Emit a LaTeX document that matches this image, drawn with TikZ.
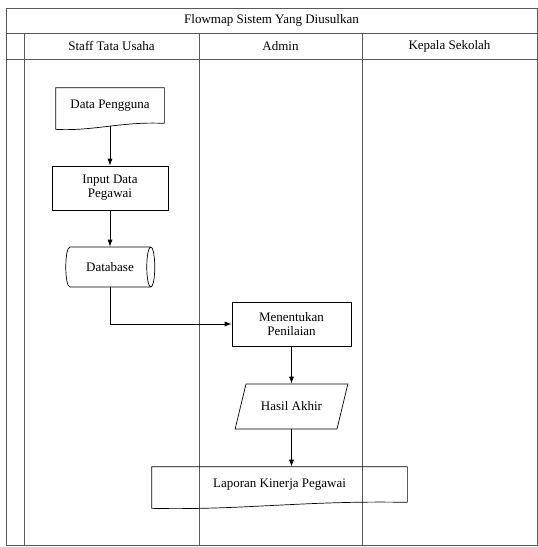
\documentclass[tikz,border=0pt]{standalone}
\usepackage{fontspec}
\setmainfont{Liberation Serif}
\usetikzlibrary{calc,shapes.geometric}
\usetikzlibrary{arrows.meta}

% document shape: wavy bottom, left corner #2 lower than the right one
\newcommand{\docshape}[2]{%
  \draw (#1.north west) -- (#1.north east) -- (#1.south east)
    .. controls ($(#1.south west)!0.6!(#1.south east)+(0,2pt)$)
    and ($(#1.south west)!0.35!(#1.south east)+(0,-#2-2pt)$) ..
    ([yshift=-#2]#1.south west) coordinate[pos=0.5] (#1-wave) -- cycle;
}

\begin{document}
\begin{tikzpicture}[x=1pt,y=-1pt,font=\fontsize{13}{14}\selectfont,
  line width=0.7pt,
  tbl/.style={draw=black!65,line width=0.8pt},
  box/.style={draw,rectangle,align=center,inner sep=2pt},
  doc/.style={rectangle,align=center,inner sep=2pt},
  arr/.style={-{Latex[length=7pt,width=5pt]}}]
\useasboundingbox (0,0) rectangle (538,547);

% swimlane table
\draw[tbl] (6,8) rectangle (537,545);
\draw[tbl] (6,33) -- (537,33);
\draw[tbl] (6,59) -- (537,59);
\foreach \x in {24,199,362}
  \draw[tbl] (\x,33) -- (\x,545);
\node (judul) at (271.5,20.5) {Flowmap Sistem Yang Diusulkan};
\node (staff) at (111.5,46) {Staff Tata Usaha};
\node (admin) at (280.5,46) {Admin};
\node (kepsek) at (449.5,46) {Kepala Sekolah};

\node[doc,minimum width=108pt,minimum height=35pt] (pengguna) at (110,105.5) {Data Pengguna};
\docshape{pengguna}{6pt}
\node[box,minimum width=116pt,minimum height=44pt] (input) at (110,188) {Input Data\\Pegawai};
\node[draw,cylinder,aspect=1.2,minimum width=40pt,minimum height=89pt] (database) at (107,267) {};
\node (dbtext) at (110,267) {Database};

\node[box,minimum width=119pt,minimum height=44pt] (menentukan) at (291.5,324) {Menentukan\\Penilaian};
\node[draw,trapezium,trapezium left angle=63,trapezium right angle=117,
      trapezium stretches=true,minimum width=113pt,minimum height=45pt] (hasil) at (291.5,406.5) {Hasil Akhir};
\node[doc,minimum width=255pt,minimum height=35pt] (laporan) at (279.5,484.5) {Laporan Kinerja Pegawai};
\docshape{laporan}{6pt}

\draw[arr] (pengguna.south |- pengguna-wave) -- (input);
\draw[arr] (input) -- (input |- database.north);
\draw[arr] (input |- database.south) |- (menentukan.west);
\draw[arr] (menentukan) -- (hasil);
\draw[arr] (hasil.south) -- (hasil.south |- laporan.north);
\end{tikzpicture}
\end{document}
